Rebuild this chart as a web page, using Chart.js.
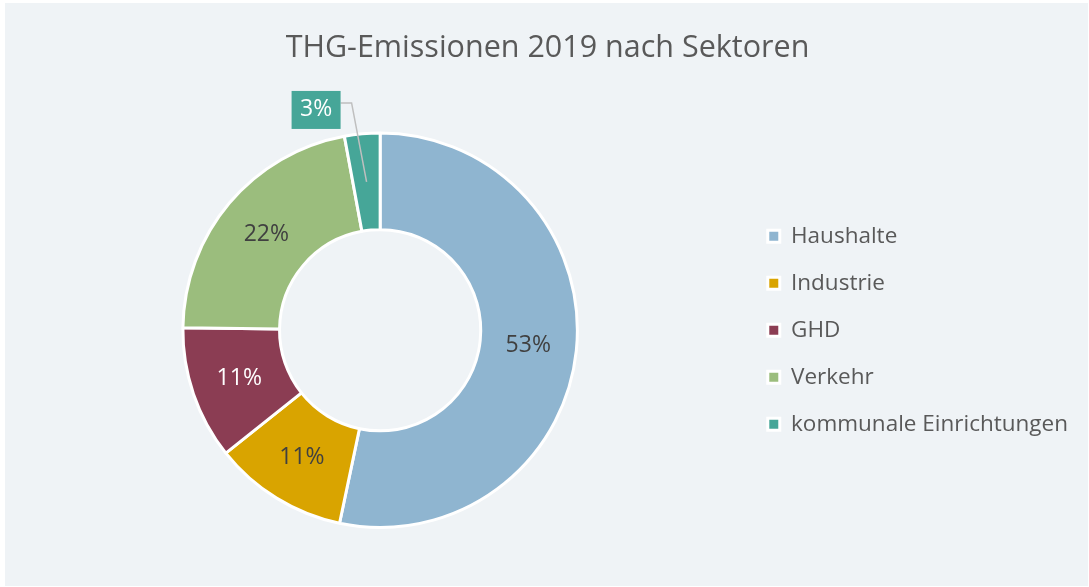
<!DOCTYPE html>
<html>
<head>
<meta charset="utf-8">
<script src="https://cdn.jsdelivr.net/npm/chart.js@4/dist/chart.umd.min.js"></script>
<style>
  html, body { margin: 0; padding: 0; background: #ffffff; }
  #wrap { position: absolute; left: 5px; top: 3px; width: 1083px; height: 583px; background: #eff3f6; }
</style>
</head>
<body>
<div id="wrap"><canvas id="chart"></canvas></div>
<script>
// THG-Emissionen 2019 nach Sektoren (shares in percent)
const sectors = ['Haushalte', 'Industrie', 'GHD', 'Verkehr', 'kommunale Einrichtungen'];
const shares = [53.3, 11.0, 10.9, 21.9, 2.9];
const sectorColors = ['#8fb5d0', '#d9a400', '#8b3d53', '#9bbd7d', '#46a698'];
const labelColors = ['#404040', '#404040', '#ffffff', '#404040', '#ffffff'];

const FONT = "'Open Sans', 'Noto Sans', sans-serif";

// draws the percentage labels on the ring, the small slice gets a callout box
const sliceLabels = {
  id: 'sliceLabels',
  afterDatasetsDraw(chart) {
    const ctx = chart.ctx;
    const meta = chart.getDatasetMeta(0);
    const values = chart.data.datasets[0].data;
    const total = values.reduce((a, b) => a + b, 0);
    ctx.save();
    ctx.font = '23px ' + FONT;
    ctx.textAlign = 'center';
    ctx.textBaseline = 'middle';
    meta.data.forEach((arc, i) => {
      const pos = arc.tooltipPosition();
      const text = Math.round(values[i] / total * 100) + '%';
      if (values[i] / total < 0.05) {
        // callout: leader line up from the slice, box with label
        const bx = pos.x - 15, by = pos.y - 79;
        ctx.strokeStyle = '#bfbfbf';
        ctx.lineWidth = 1.5;
        ctx.beginPath();
        ctx.moveTo(pos.x, pos.y);
        ctx.lineTo(bx, by);
        ctx.lineTo(bx - 11, by);
        ctx.stroke();
        const w = 49, h = 38;
        const right = bx - 11;
        ctx.fillStyle = sectorColors[i];
        ctx.fillRect(right - w, by - 12, w, h);
        ctx.fillStyle = labelColors[i];
        ctx.fillText(text, right - w / 2, by - 12 + h / 2);
      } else {
        ctx.fillStyle = labelColors[i];
        ctx.fillText(text, pos.x, pos.y);
      }
    });
    ctx.restore();
  }
};

new Chart(document.getElementById('chart'), {
  type: 'doughnut',
  data: {
    labels: sectors,
    datasets: [{
      data: shares,
      backgroundColor: sectorColors,
      borderColor: '#ffffff',
      borderWidth: 3
    }]
  },
  options: {
    responsive: true,
    maintainAspectRatio: false,
    animation: false,
    events: [],
    cutout: '51%',
    layout: { padding: { left: 12, right: 10, top: 0, bottom: 57 } },
    plugins: {
      tooltip: { enabled: false },
      title: {
        display: true,
        text: 'THG-Emissionen 2019 nach Sektoren',
        color: '#595959',
        font: { family: FONT, size: 30.5, weight: 'normal' },
        padding: { top: 27.5, bottom: 64.4 }
      },
      legend: {
        position: 'right',
        fullSize: false,
        labels: {
          color: '#595959',
          font: { family: FONT, size: 22.5 },
          boxWidth: 12,
          boxHeight: 12,
          padding: 24.5
        }
      }
    }
  },
  plugins: [sliceLabels]
});
</script>
</body>
</html>
